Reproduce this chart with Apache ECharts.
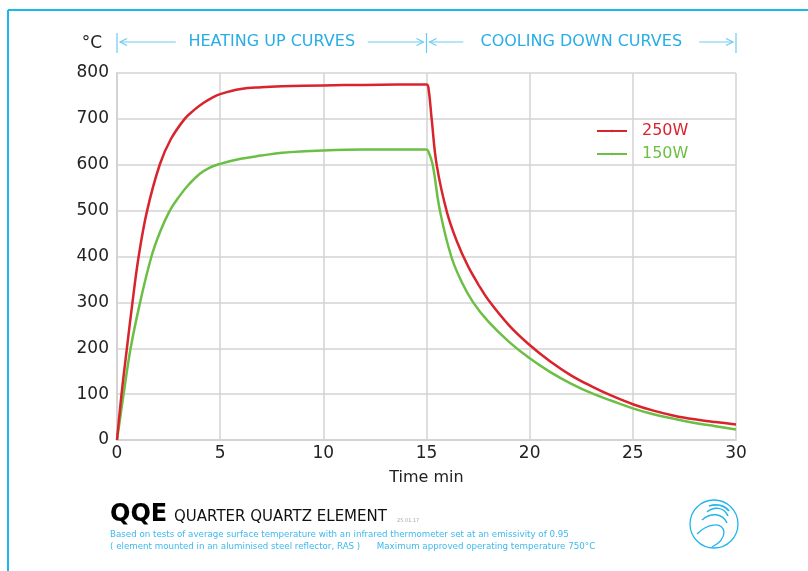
<!DOCTYPE html>
<html>
<head>
<meta charset="utf-8">
<script src="https://cdn.jsdelivr.net/npm/echarts@6/dist/echarts.min.js"></script>
<style>
  html, body { margin: 0; padding: 0; background: #fff; }
  #chart { width: 808px; height: 571px; }
</style>
</head>
<body>
<div id="chart"></div>
<script>
// 250W 加热/冷却曲线（时间 min，温度 °C）
const redTimes = [0, 0.22, 0.48, 0.75, 1.05, 1.46, 2.07, 2.6, 3.28, 3.7, 4.2, 4.6, 5, 6, 7, 8, 10, 12, 15,
                  15.1, 15.25, 15.5, 16, 16.5, 17, 17.5, 18, 19, 20, 21, 22, 23, 24, 25, 26, 27, 28, 29, 30];
const redTemps = [0, 100, 200, 300, 400, 500, 600, 655, 700, 718, 735, 746, 754, 765, 769, 771, 773, 774, 775,
                  765, 700, 598, 495, 430, 380, 340, 305, 250, 207, 171, 141, 117, 96, 78, 64, 53, 45, 39, 34];
// 150W
const greenTimes = [0, 0.32, 0.66, 1.12, 1.67, 2.1, 2.56, 3, 3.5, 4, 4.5, 5, 6, 7, 8, 10, 12, 15,
                    15.1, 15.3, 15.65, 16.2, 16.7, 17.26, 18, 19, 20, 21, 22, 23, 24, 25, 26, 27, 28, 29, 30];
const greenTemps = [0, 100, 200, 300, 400, 455, 500, 530, 558, 580, 594, 602, 613, 620, 626, 631, 633, 633,
                    628, 600, 500, 400, 345, 300, 258, 214, 178, 148, 123, 102, 85, 69, 56, 46, 37, 30, 23];

const seriesNames = ['250W', '150W'];
const seriesColors = ['#d9232d', '#6cbf45'];
const xTicks = [0, 5, 10, 15, 20, 25, 30];
const yTicks = [0, 100, 200, 300, 400, 500, 600, 700, 800];
const phaseLabels = ['HEATING UP CURVES', 'COOLING DOWN CURVES'];
const phaseBounds = [0, 15, 30];

const blue = '#27aee6';
const arrowBlue = '#6ccbf2';
const font = 'DejaVu Sans';

const zip = (xs, ys) => xs.map((x, i) => [x, ys[i]]);

const chart = echarts.init(document.getElementById('chart'));

const option = {
  backgroundColor: '#fff',
  animation: false,
  textStyle: { fontFamily: font },
  grid: { left: 117, right: 72, top: 73, bottom: 131 },
  legend: {
    orient: 'vertical',
    left: 591,
    top: 118,
    itemWidth: 30,
    itemHeight: 3,
    itemGap: 7,
    data: seriesNames.map((n, i) => ({
      name: n,
      textStyle: { color: seriesColors[i], fontSize: 16, fontFamily: font, padding: [0, 0, 0, 10] }
    }))
  },
  xAxis: {
    type: 'value',
    min: xTicks[0],
    max: xTicks[xTicks.length - 1],
    interval: 5,
    name: 'Time min',
    nameLocation: 'middle',
    nameGap: 30,
    nameTextStyle: { color: '#222', fontSize: 16 },
    axisLine: { show: true, lineStyle: { color: '#d3d3d3', width: 2 } },
    axisTick: { show: false },
    axisLabel: { color: '#222', fontSize: 17, margin: 5 },
    splitLine: { show: true, lineStyle: { color: '#d3d3d3', width: 1.5 } }
  },
  yAxis: {
    type: 'value',
    min: yTicks[0],
    max: yTicks[yTicks.length - 1],
    interval: 100,
    name: '°C',
    nameLocation: 'end',
    nameGap: 21,
    nameTextStyle: { color: '#222', fontSize: 17, align: 'right', padding: [0, 15, 0, 0] },
    axisLine: { show: true, lineStyle: { color: '#d3d3d3', width: 2 } },
    axisTick: { show: false },
    axisLabel: { color: '#222', fontSize: 17, margin: 8 },
    splitLine: { show: true, lineStyle: { color: '#d3d3d3', width: 1.5 } }
  },
  series: [
    {
      name: seriesNames[0],
      type: 'line',
      data: zip(redTimes, redTemps),
      symbol: 'none',
      smooth: 0.4,
      lineStyle: { color: seriesColors[0], width: 2.5 },
      itemStyle: { color: seriesColors[0] },
      z: 3
    },
    {
      name: seriesNames[1],
      type: 'line',
      data: zip(greenTimes, greenTemps),
      symbol: 'none',
      smooth: 0.4,
      lineStyle: { color: seriesColors[1], width: 2.5 },
      itemStyle: { color: seriesColors[1] },
      z: 2
    }
  ]
};

chart.setOption(option);

// 顶部阶段标注 + 底部说明 + 边框 + 标志
const px = phaseBounds.map(t => chart.convertToPixel({ xAxisIndex: 0 }, t));
const annY = 42;
const g = [];
// 外框
g.push({ type: 'line', shape: { x1: 8, y1: 10, x2: 808, y2: 10 }, style: { stroke: '#1ab7ea', lineWidth: 2 } });
g.push({ type: 'line', shape: { x1: 8, y1: 10, x2: 8, y2: 571 }, style: { stroke: '#1ab7ea', lineWidth: 2 } });
// 分隔竖线
px.forEach(x => {
  g.push({ type: 'line', shape: { x1: x, y1: 33, x2: x, y2: 53 }, style: { stroke: arrowBlue, lineWidth: 1.2 } });
});
// 箭头
function arrow(x1, x2, dir) {
  g.push({ type: 'line', shape: { x1: x1, y1: annY, x2: x2, y2: annY }, style: { stroke: arrowBlue, lineWidth: 1.2 } });
  const tip = dir < 0 ? x1 : x2;
  g.push({ type: 'polyline', shape: { points: [[tip - dir * 7, annY - 3.5], [tip, annY], [tip - dir * 7, annY + 3.5]] }, style: { stroke: arrowBlue, lineWidth: 1.2, fill: null } });
}
const halfWidths = [82, 104];
for (let i = 0; i < phaseLabels.length; i++) {
  const a = px[i], b = px[i + 1];
  const mid = (a + b) / 2;
  g.push({ type: 'text', x: mid, y: annY, style: { text: phaseLabels[i], fill: blue, font: '16px ' + font, align: 'center', verticalAlign: 'middle' } });
  arrow(a + 3, mid - halfWidths[i] - 14, -1);
  arrow(mid + halfWidths[i] + 14, b - 3, 1);
}
// 标题
g.push({ type: 'text', x: 110, y: 515, style: { text: 'QQE', fill: '#000', font: 'bold 24px ' + font, verticalAlign: 'middle' } });
g.push({ type: 'text', x: 174, y: 517, style: { text: 'QUARTER QUARTZ ELEMENT', fill: '#111', font: '15px ' + font, verticalAlign: 'middle' } });
g.push({ type: 'text', x: 397, y: 521, style: { text: '25.01.17', fill: '#aaa', font: '5px ' + font, verticalAlign: 'middle' } });
g.push({ type: 'text', x: 110, y: 535, style: { text: 'Based on tests of average surface temperature with an infrared thermometer set at an emissivity of 0.95', fill: '#3cb9ee', font: '8.7px ' + font, verticalAlign: 'middle' } });
g.push({ type: 'text', x: 110, y: 547, style: { text: '( element mounted in an aluminised steel reflector, RAS )      Maximum approved operating temperature 750°C', fill: '#3cb9ee', font: '8.7px ' + font, verticalAlign: 'middle' } });
// 标志
const logo = '#22b5ec';
g.push({ type: 'circle', shape: { cx: 714, cy: 524, r: 24 }, style: { stroke: logo, lineWidth: 1.3, fill: null } });
g.push({ type: 'bezierCurve', shape: { x1: 697, y1: 534, cpx1: 706, cpy1: 525, cpx2: 722, cpy2: 520, x2: 724, y2: 532 }, style: { stroke: logo, lineWidth: 1.3, fill: null } });
g.push({ type: 'bezierCurve', shape: { x1: 724, y1: 532, cpx1: 724, cpy1: 539, cpx2: 718, cpy2: 544, x2: 712, y2: 547 }, style: { stroke: logo, lineWidth: 1.3, fill: null } });
g.push({ type: 'bezierCurve', shape: { x1: 702, y1: 520, cpx1: 710, cpy1: 513, cpx2: 722, cpy2: 512, x2: 727, y2: 523 }, style: { stroke: logo, lineWidth: 1.5, fill: null } });
g.push({ type: 'bezierCurve', shape: { x1: 707, y1: 512, cpx1: 714, cpy1: 506, cpx2: 724, cpy2: 507, x2: 728, y2: 516 }, style: { stroke: logo, lineWidth: 1.5, fill: null } });
g.push({ type: 'bezierCurve', shape: { x1: 709, y1: 506, cpx1: 716, cpy1: 504, cpx2: 724, cpy2: 505, x2: 729, y2: 511 }, style: { stroke: logo, lineWidth: 1.8, fill: null } });

chart.setOption({ graphic: g });
</script>
</body>
</html>
